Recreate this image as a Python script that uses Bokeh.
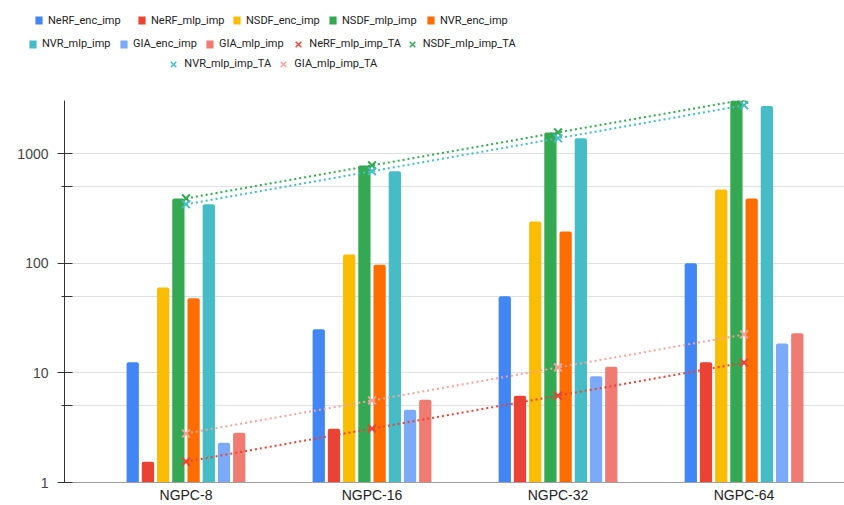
from bokeh.plotting import figure
from bokeh.layouts import column, row
from bokeh.models import Range1d, FixedTicker, Legend, LegendItem
from bokeh.embed import file_html
from bokeh.resources import INLINE

categories = ["NGPC-8", "NGPC-16", "NGPC-32", "NGPC-64"]

nerf_enc_imp = [12.5, 25, 50, 100]
nerf_mlp_imp = [1.55, 3.1, 6.2, 12.5]
nsdf_enc_imp = [60, 120, 240, 470]
nsdf_mlp_imp = [390, 780, 1560, 3100]
nvr_enc_imp = [48, 97, 195, 390]
nvr_mlp_imp = [345, 690, 1380, 2720]
gia_enc_imp = [2.3, 4.6, 9.3, 18.5]
gia_mlp_imp = [2.85, 5.7, 11.4, 23]

nerf_mlp_imp_ta = [1.55, 3.1, 6.2, 12.4]
nsdf_mlp_imp_ta = [390, 780, 1560, 3100]
nvr_mlp_imp_ta = [345, 690, 1380, 2760]
gia_mlp_imp_ta = [2.8, 5.6, 11.2, 22.4]

bar_series = [
    ("NeRF_enc_imp", nerf_enc_imp, "#4285F4"),
    ("NeRF_mlp_imp", nerf_mlp_imp, "#EA4335"),
    ("NSDF_enc_imp", nsdf_enc_imp, "#FBBC04"),
    ("NSDF_mlp_imp", nsdf_mlp_imp, "#34A853"),
    ("NVR_enc_imp", nvr_enc_imp, "#FF6D01"),
    ("NVR_mlp_imp", nvr_mlp_imp, "#46BDC6"),
    ("GIA_enc_imp", gia_enc_imp, "#7BAAF7"),
    ("GIA_mlp_imp", gia_mlp_imp, "#F07B72"),
]
ta_series = [
    ("NeRF_mlp_imp_TA", nerf_mlp_imp_ta, "#EA4335"),
    ("NSDF_mlp_imp_TA", nsdf_mlp_imp_ta, "#34A853"),
    ("NVR_mlp_imp_TA", nvr_mlp_imp_ta, "#46BDC6"),
    ("GIA_mlp_imp_TA", gia_mlp_imp_ta, "#F3A39C"),
]

FONT = "Liberation Sans"
LFONT = "Roboto"
FRAME_LEFT = 64

# ---------------- main chart ----------------
p = figure(width=844, height=405, output_backend="svg", toolbar_location=None,
           y_axis_type="log", x_range=Range1d(-0.653, 3.54), y_range=Range1d(1, 3050),
           min_border_top=0, min_border_bottom=21, min_border_left=FRAME_LEFT,
           min_border_right=0)
p.outline_line_color = None
p.background_fill_color = "white"

idx = list(range(len(categories)))
stride = 0.0818
bw = 0.066
for k, (name, vals, col) in enumerate(bar_series):
    xs = [i + (k - 3.5) * stride for i in idx]
    p.vbar(x=xs, top=vals, bottom=1, width=bw, fill_color=col, line_color=None,
           border_radius=(2, 2, 0, 0))

for name, vals, col in ta_series:
    p.line(x=idx, y=vals, line_color=col, line_width=2, line_dash="2 3")
for name, vals, col in ta_series:
    p.scatter(x=idx, y=vals, marker="x", size=11, line_color=col, line_width=2)

p.yaxis.ticker = FixedTicker(ticks=[1, 10, 100, 1000], minor_ticks=[5, 50, 500])
p.yaxis.major_label_overrides = {1: "1", 10: "10", 100: "100", 1000: "1000"}
p.yaxis.axis_line_color = "#333333"
p.yaxis.major_tick_line_color = "#333333"
p.yaxis.major_tick_in = 8
p.yaxis.major_tick_out = 7
p.yaxis.minor_tick_line_color = "#333333"
p.yaxis.minor_tick_in = 8
p.yaxis.minor_tick_out = 3
p.yaxis.major_label_standoff = 9
p.yaxis.major_label_text_font = FONT
p.yaxis.major_label_text_font_size = "14px"
p.yaxis.major_label_text_color = "#444444"

p.xaxis.ticker = FixedTicker(ticks=idx)
p.xaxis.major_label_overrides = {i: c for i, c in zip(idx, categories)}
p.xaxis.axis_line_color = "#9e9e9e"
p.xaxis.major_tick_line_color = None
p.xaxis.minor_tick_line_color = None
p.xaxis.major_tick_out = 0
p.xaxis.major_tick_in = 0
p.xaxis.major_label_standoff = 4
p.xaxis.major_label_text_font = FONT
p.xaxis.major_label_text_font_size = "14px"
p.xaxis.major_label_text_color = "#222222"

p.xgrid.grid_line_color = None
p.ygrid.grid_line_color = "#e0e0e0"
p.ygrid.minor_grid_line_color = "#e0e0e0"

# ---------------- legend strip ----------------
lf = figure(width=844, height=100, output_backend="svg", toolbar_location=None,
            x_range=Range1d(0, 1), y_range=Range1d(0, 1),
            x_axis_location=None, y_axis_location=None,
            min_border=0, min_border_top=0, min_border_bottom=0,
            min_border_left=0, min_border_right=0)
lf.outline_line_color = None
lf.xgrid.visible = False
lf.ygrid.visible = False

# zero-size stand-in renderers, only used to draw the legend swatches
leg_r = {}
for name, vals, col in bar_series:
    leg_r[name] = lf.vbar(x=[0], top=[0], bottom=[0], width=0, fill_color=col,
                          line_color=None, border_radius=1)
for name, vals, col in ta_series:
    leg_r[name] = lf.scatter(x=[0], y=[0], size=0, marker="x", line_color=col,
                             line_width=1.5)

# (series, swatch left x, row centre y) in page pixels
legend_layout = [
    ("NeRF_enc_imp", 34, 20), ("NeRF_mlp_imp", 137, 20), ("NSDF_enc_imp", 232, 20),
    ("NSDF_mlp_imp", 328, 20), ("NVR_enc_imp", 426, 20),
    ("NVR_mlp_imp", 28, 43.5), ("GIA_enc_imp", 119, 43.5), ("GIA_mlp_imp", 205, 43.5),
    ("NeRF_mlp_imp_TA", 288.3, 43.5), ("NSDF_mlp_imp_TA", 401.7, 43.5),
    ("NVR_mlp_imp_TA", 163.3, 63.5), ("GIA_mlp_imp_TA", 273.3, 63.5),
]
ta_names = {n for n, _, _ in ta_series}
for name, lx, cy in legend_layout:
    if name in ta_names:
        gw, gh, lh, so = 20, 20, 20, 1
    else:
        gw, gh, lh, so = 9, 10, 14, 5
    leg = Legend(items=[LegendItem(label=name, renderers=[leg_r[name]])],
                 orientation="horizontal",
                 location=(lx, 100 - cy - lh / 2),
                 margin=0, padding=0, spacing=0, label_standoff=so,
                 glyph_width=gw, glyph_height=gh, label_height=lh,
                 border_line_color=None, background_fill_alpha=0,
                 label_text_font=LFONT, label_text_font_size="11px",
                 label_text_color="#222222")
    lf.add_layout(leg, "center")

# wrap the legend strip so its frame is not aligned with the chart's frame
layout = column(row(lf), p, spacing=0)
open("out.html", "w").write(file_html(layout, INLINE))
